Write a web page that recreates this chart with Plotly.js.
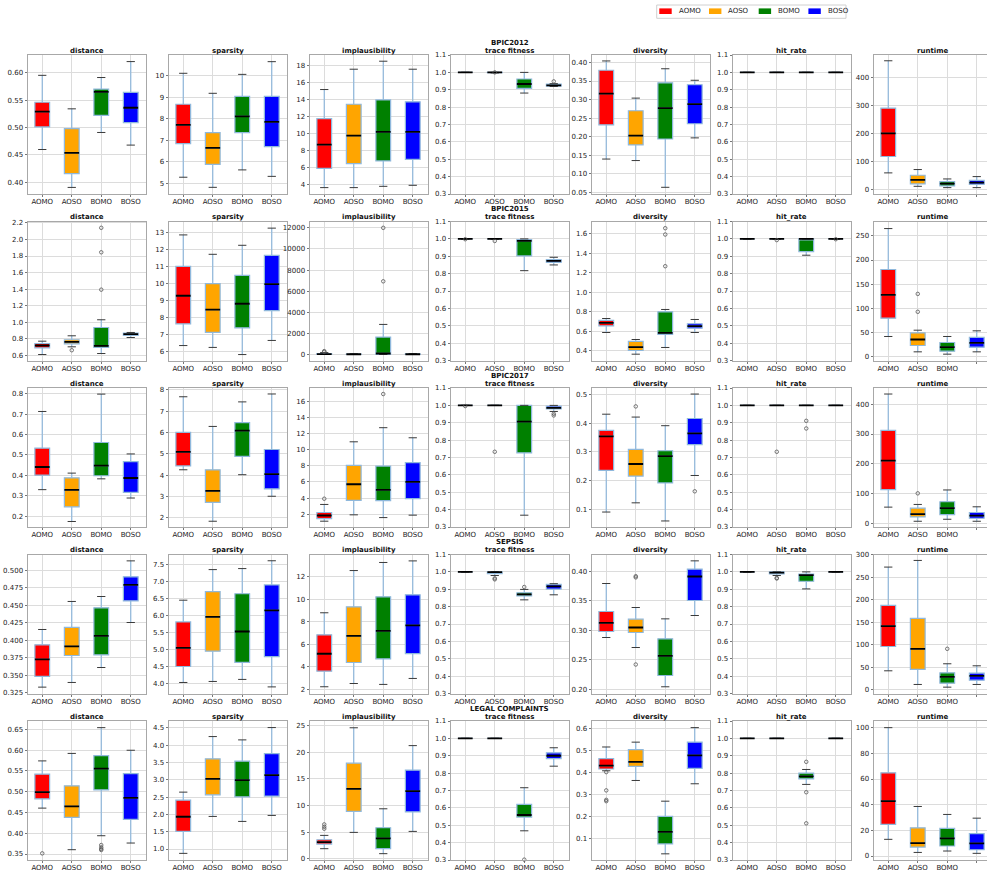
<!DOCTYPE html>
<html>
<head>
<meta charset="utf-8">
<script src="https://cdn.plot.ly/plotly-3.0.1.min.js"></script>
<style>
  html, body { margin: 0; padding: 0; background: #ffffff; }
  #chart { width: 987px; height: 873px; }
</style>
</head>
<body>
<div id="chart"></div>
<script>
// Counterfactual explanation methods compared on five event logs.
const methods = ['AOMO', 'AOSO', 'BOMO', 'BOSO'];
const methodColors = ['#ff0000', '#ffa500', '#008000', '#0000ff'];
const datasets = ['BPIC2012', 'BPIC2015', 'BPIC2017', 'SEPSIS', 'LEGAL COMPLAINTS'];
const metrics = ['distance', 'sparsity', 'implausibility', 'trace fitness', 'diversity', 'hit_rate', 'runtime'];

// Each box: [lower whisker, q1, median, q3, upper whisker], one per method.
const ONE = [1, 1, 1, 1, 1];

// BPIC2012
const bpic2012_distance = [[0.460, 0.501, 0.529, 0.546, 0.595], [0.391, 0.416, 0.454, 0.498, 0.534], [0.491, 0.522, 0.565, 0.570, 0.591], [0.468, 0.509, 0.536, 0.564, 0.620]];
const bpic2012_sparsity = [[5.28, 6.84, 7.71, 8.67, 10.11], [4.81, 5.88, 6.64, 7.35, 9.18], [5.62, 7.35, 8.11, 9.04, 10.06], [5.32, 6.70, 7.85, 9.04, 10.65]];
const bpic2012_implausibility = [[3.61, 5.88, 8.67, 11.73, 15.14], [3.61, 6.43, 9.73, 13.41, 17.53], [3.76, 6.75, 10.16, 13.92, 18.47], [3.88, 6.94, 10.16, 13.69, 17.53]];
const bpic2012_fitness = [ONE, [0.997, 0.999, 1.0, 1.0, 1.0], [0.881, 0.908, 0.933, 0.962, 1.0], [0.919, 0.921, 0.925, 0.933, 0.935]];
const bpic2012_diversity = [[0.140, 0.232, 0.316, 0.379, 0.404], [0.136, 0.178, 0.203, 0.270, 0.304], [0.064, 0.194, 0.277, 0.345, 0.383], [0.197, 0.235, 0.288, 0.340, 0.352]];
const bpic2012_hitrate = [ONE, ONE, ONE, ONE];
const bpic2012_runtime = [[58.9, 117.7, 200.6, 291, 461], [10.8, 19.2, 33.6, 50.5, 70.9], [6.0, 12.0, 20.4, 27.6, 37.2], [6.0, 18.0, 24.0, 32.4, 45.6]];

// BPIC2015
const bpic2015_distance = [[0.612, 0.693, 0.721, 0.745, 0.773], [0.705, 0.741, 0.765, 0.790, 0.838], [0.624, 0.697, 0.717, 0.938, 1.031], [0.817, 0.842, 0.858, 0.870, 0.878]];
const bpic2015_sparsity = [[6.33, 7.61, 9.26, 10.99, 12.84], [6.22, 7.10, 8.44, 9.97, 11.70], [5.80, 7.37, 8.79, 10.46, 12.23], [6.63, 8.38, 9.95, 11.64, 13.24]];
const bpic2015_implausibility = [[0, 10, 40, 90, 180], [0, 5, 20, 40, 60], [0, 10, 95, 1646, 2850], [0, 5, 20, 50, 80]];
const bpic2015_fitness = [ONE, ONE, [0.817, 0.902, 0.988, 0.996, 1.0], [0.850, 0.865, 0.873, 0.881, 0.894]];
const bpic2015_diversity = [[0.585, 0.654, 0.685, 0.709, 0.729], [0.362, 0.400, 0.434, 0.493, 0.513], [0.431, 0.565, 0.582, 0.798, 0.822], [0.585, 0.630, 0.651, 0.675, 0.719]];
const bpic2015_hitrate = [ONE, ONE, [0.906, 0.927, 1.0, 1.0, 1.0], ONE];
const bpic2015_runtime = [[42, 79.9, 128.1, 180.4, 265], [10.3, 23.4, 35.8, 49.6, 55], [5.5, 11.7, 20, 29.6, 42], [10.3, 20, 28.9, 40, 53.7]];

// BPIC2017
const bpic2017_distance = [[0.330, 0.401, 0.441, 0.533, 0.713], [0.174, 0.246, 0.329, 0.388, 0.411], [0.383, 0.398, 0.448, 0.561, 0.798], [0.289, 0.317, 0.387, 0.467, 0.505]];
const bpic2017_sparsity = [[4.25, 4.43, 5.09, 6.00, 7.67], [1.84, 2.72, 3.26, 4.25, 6.28], [4.02, 4.88, 6.08, 6.46, 7.43], [3.01, 3.36, 4.05, 5.20, 7.80]];
const bpic2017_implausibility = [[1.13, 1.46, 1.84, 2.21, 3.21], [1.92, 3.72, 5.72, 8.07, 10.99], [1.58, 3.68, 5.01, 7.98, 12.74], [1.88, 3.93, 6.02, 8.40, 11.49]];
const bpic2017_fitness = [ONE, ONE, [0.368, 0.727, 0.907, 1.0, 1.0], [0.965, 0.979, 0.986, 0.996, 1.0]];
const bpic2017_diversity = [[0.091, 0.236, 0.354, 0.375, 0.431], [0.123, 0.216, 0.258, 0.309, 0.421], [0.060, 0.192, 0.285, 0.304, 0.391], [0.218, 0.325, 0.364, 0.416, 0.501]];
const bpic2017_hitrate = [ONE, ONE, ONE, ONE];
const bpic2017_runtime = [[55.2, 113.8, 210.7, 312, 433.8], [7.9, 22.5, 31.5, 51.8, 64.2], [14.6, 30.4, 51.8, 73.2, 112.7], [7.9, 18.0, 27.0, 37.2, 56.3]];

// SEPSIS
const sepsis_distance = [[0.3331, 0.3484, 0.3727, 0.3937, 0.4156], [0.3398, 0.3784, 0.3913, 0.4185, 0.4557], [0.3612, 0.3794, 0.4065, 0.4466, 0.4628], [0.4256, 0.4566, 0.4795, 0.4909, 0.5138]];
const sepsis_sparsity = [[4.03, 4.50, 5.05, 5.81, 6.45], [4.06, 4.95, 5.96, 6.70, 7.35], [4.12, 4.62, 5.53, 6.64, 7.38], [3.90, 4.79, 6.15, 6.90, 7.61]];
const sepsis_implausibility = [[2.21, 3.60, 5.15, 6.84, 8.80], [2.50, 4.37, 6.75, 9.33, 12.56], [2.42, 4.70, 7.19, 10.22, 13.28], [2.95, 5.17, 7.67, 10.40, 13.42]];
const sepsis_fitness = [ONE, [0.979, 0.990, 0.998, 1.0, 1.0], [0.839, 0.862, 0.870, 0.880, 0.899], [0.868, 0.901, 0.917, 0.928, 0.932]];
const sepsis_diversity = [[0.2878, 0.2980, 0.3127, 0.3320, 0.3796], [0.2708, 0.2963, 0.3048, 0.3190, 0.3388], [0.2040, 0.2232, 0.2567, 0.2856, 0.3195], [0.3252, 0.3507, 0.3915, 0.4040, 0.4181]];
const sepsis_hitrate = [ONE, [0.979, 0.988, 0.996, 1.0, 1.0], [0.902, 0.946, 0.981, 0.987, 1.0], ONE];
const sepsis_runtime = [[42.3, 96.4, 141.7, 187.7, 273], [11.9, 45.3, 91.2, 158.8, 287.8], [5.9, 14.8, 28.9, 37.8, 57.9], [11.9, 21.5, 31.2, 37.1, 53.4]];

// LEGAL COMPLAINTS
const legal_distance = [[0.4604, 0.4828, 0.4988, 0.542, 0.574], [0.3604, 0.438, 0.4644, 0.514, 0.592], [0.394, 0.5044, 0.5556, 0.5868, 0.654], [0.3764, 0.4332, 0.4852, 0.5436, 0.5996]];
const legal_sparsity = [[0.875, 1.510, 1.933, 2.413, 2.644], [1.942, 2.567, 3.029, 3.606, 4.25], [1.798, 2.510, 2.990, 3.538, 4.154], [1.971, 2.529, 3.135, 3.76, 4.51]];
const legal_implausibility = [[1.875, 2.75, 3.125, 3.56, 4.375], [4.94, 8.875, 13.125, 17.94, 24.6], [0.94, 1.875, 3.81, 5.81, 9.375], [5.125, 8.81, 12.69, 16.625, 21.25]];
const legal_fitness = [ONE, ONE, [0.468, 0.547, 0.559, 0.620, 0.716], [0.840, 0.884, 0.900, 0.917, 0.946]];
const legal_diversity = [[0.409, 0.417, 0.432, 0.464, 0.517], [0.365, 0.429, 0.449, 0.505, 0.539], [0.032, 0.077, 0.132, 0.202, 0.271], [0.350, 0.420, 0.479, 0.539, 0.605]];
const legal_hitrate = [ONE, ONE, [0.735, 0.767, 0.781, 0.800, 0.821], ONE];
const legal_runtime = [[13.0, 24.6, 42.7, 64.8, 100], [2.8, 7.0, 10.1, 22.0, 38.6], [3.9, 7.8, 13.7, 21.5, 32.4], [2.1, 4.9, 9.8, 17.4, 29.5]];

// Outliers (points beyond the whiskers), one list per method.
const NONE = [[], [], [], []];
const bpic2012_fitness_out = [[], [1.0], [], [0.948]];
const bpic2015_distance_out = [[], [0.664], [2.14, 1.845, 1.394], []];
const bpic2015_implausibility_out = [[320, 250], [], [12000, 6934], []];
const bpic2015_fitness_out = [[0.998], [0.988], [], []];
const bpic2015_diversity_out = [[], [], [1.658, 1.593, 1.267], []];
const bpic2015_hitrate_out = [[], [0.993], [], [0.998]];
const bpic2015_runtime_out = [[], [130, 93], [], []];
const bpic2017_implausibility_out = [[3.92], [], [16.92], []];
const bpic2017_fitness_out = [[0.996], [0.733], [], [0.952, 0.942]];
const bpic2017_diversity_out = [[], [0.458], [], [0.163]];
const bpic2017_hitrate_out = [[], [0.733], [0.911, 0.867], []];
const bpic2017_runtime_out = [[], [101.4], [], []];
const sepsis_fitness_out = [[], [0.963, 0.957], [0.913], []];
const sepsis_diversity_out = [[], [0.392, 0.390, 0.2419], [], []];
const sepsis_hitrate_out = [[], [0.965, 0.962], [], []];
const sepsis_runtime_out = [[], [], [91.2], []];
const legal_distance_out = [[0.3516], [], [0.3716, 0.3660, 0.3620, 0.3596], []];
const legal_implausibility_out = [[6.44, 6.0, 5.63], [], [], []];
const legal_fitness_out = [[], [], [0.302], []];
const legal_diversity_out = [[0.403, 0.320, 0.277, 0.271], [], [], []];
const legal_hitrate_out = [[], [], [0.865, 0.690, 0.511], []];

// Grid of panels: rows = datasets, columns = metrics.
const boxStats = [
  [bpic2012_distance, bpic2012_sparsity, bpic2012_implausibility, bpic2012_fitness, bpic2012_diversity, bpic2012_hitrate, bpic2012_runtime],
  [bpic2015_distance, bpic2015_sparsity, bpic2015_implausibility, bpic2015_fitness, bpic2015_diversity, bpic2015_hitrate, bpic2015_runtime],
  [bpic2017_distance, bpic2017_sparsity, bpic2017_implausibility, bpic2017_fitness, bpic2017_diversity, bpic2017_hitrate, bpic2017_runtime],
  [sepsis_distance, sepsis_sparsity, sepsis_implausibility, sepsis_fitness, sepsis_diversity, sepsis_hitrate, sepsis_runtime],
  [legal_distance, legal_sparsity, legal_implausibility, legal_fitness, legal_diversity, legal_hitrate, legal_runtime]
];
const outlierStats = [
  [NONE, NONE, NONE, bpic2012_fitness_out, NONE, NONE, NONE],
  [bpic2015_distance_out, NONE, bpic2015_implausibility_out, bpic2015_fitness_out, bpic2015_diversity_out, bpic2015_hitrate_out, bpic2015_runtime_out],
  [NONE, NONE, bpic2017_implausibility_out, bpic2017_fitness_out, bpic2017_diversity_out, bpic2017_hitrate_out, bpic2017_runtime_out],
  [NONE, NONE, NONE, sepsis_fitness_out, sepsis_diversity_out, sepsis_hitrate_out, sepsis_runtime_out],
  [legal_distance_out, NONE, legal_implausibility_out, legal_fitness_out, legal_diversity_out, legal_hitrate_out, NONE]
];

// Y axis settings per panel: [min, max, tick step, tick format]
const FIT = [0.3, 1.1, 0.1, '.1f'];
const yAxisSpec = [
  [[0.379, 0.632, 0.05, '.2f'], [4.50, 10.96, 1, 'd'], [2.86, 19.2, 2, 'd'], FIT, [0.046, 0.420, 0.05, '.2f'], FIT, [-16.8, 481.7, 100, 'd']],
  [[0.540, 2.216, 0.2, '.1f'], [5.45, 13.63, 1, 'd'], [-570, 12601, 2000, 'd'], FIT, [0.297, 1.727, 0.2, '.1f'], FIT, [-7.6, 279.6, 50, 'd']],
  [[0.147, 0.828, 0.1, '.1f'], [1.57, 8.08, 1, 'd'], [0.41, 17.67, 2, 'd'], FIT, [0.039, 0.522, 0.1, '.1f'], FIT, [-11.3, 454, 100, 'd']],
  [[0.324, 0.5229, 0.025, '.3f'], [3.706, 7.794, 0.5, '.1f'], [1.61, 13.99, 2, 'd'], FIT, [0.1926, 0.4289, 0.05, '.2f'], FIT, [-8.2, 301, 50, 'd']],
  [[0.3356, 0.670, 0.05, '.2f'], [0.683, 4.70, 0.5, '.1f'], [-0.25, 25.875, 5, 'd'], FIT, [0.004, 0.635, 0.1, '.1f'], FIT, [-3.1, 105.2, 20, 'd']]
];

// Page geometry (pixels)
const W = 987, H = 873;
const colLeft0 = 27.5, colPitch = 141, plotW = 118;
const rowTop0 = 55, rowPitch = 166.5, plotH = 139;
const BOX_HALF = 0.25, CAP_HALF = 0.14;
const FONT = 'DejaVu Sans, Liberation Sans, sans-serif';
const FS = 7.0;

const px = v => v / W;
const py = v => 1 - v / H;

const traces = [];
const layout = {
  width: W, height: H,
  margin: { l: 0, r: 0, t: 0, b: 0 },
  paper_bgcolor: '#ffffff', plot_bgcolor: '#ffffff',
  font: { family: FONT, size: FS, color: '#222222' },
  showlegend: false,
  annotations: [],
  shapes: [],
  hovermode: false
};

datasets.forEach((ds, r) => {
  metrics.forEach((metric, c) => {
    const k = r * 7 + c + 1;
    const xa = k === 1 ? 'x' : 'x' + k;
    const ya = k === 1 ? 'y' : 'y' + k;
    const stats = boxStats[r][c];
    const outs = outlierStats[r][c];
    const pxPerUnit = plotW / 4;
    const left = colLeft0 + c * colPitch;
    const right = Math.min(W, left + plotW);
    const top = rowTop0 + r * rowPitch;
    const spec = yAxisSpec[r][c];

    stats.forEach((s, i) => {
      traces.push({
        type: 'box', orientation: 'v', xaxis: xa, yaxis: ya,
        name: methods[i], showlegend: false,
        x: [i + 1], lowerfence: [s[0]], q1: [s[1]], median: [s[2]], q3: [s[3]], upperfence: [s[4]],
        width: 2 * BOX_HALF, whiskerwidth: 0, boxpoints: false,
        fillcolor: methodColors[i],
        line: { color: '#8fb8dc', width: 1.2 },
        hoverinfo: 'skip'
      });
    });

    // black median bars and dark whisker caps on top of the boxes
    const mx = [], my = [], cx = [], cy = [], ox = [], oy = [];
    stats.forEach((s, i) => {
      const p = i + 1;
      mx.push(p - BOX_HALF, p + BOX_HALF, null); my.push(s[2], s[2], null);
      cx.push(p - CAP_HALF, p + CAP_HALF, null); cy.push(s[0], s[0], null);
      cx.push(p - CAP_HALF, p + CAP_HALF, null); cy.push(s[4], s[4], null);
      outs[i].forEach(v => { ox.push(p); oy.push(v); });
    });
    traces.push({ type: 'scatter', mode: 'lines', xaxis: xa, yaxis: ya, x: cx, y: cy,
      line: { color: '#3a3a3a', width: 1 }, showlegend: false, hoverinfo: 'skip' });
    traces.push({ type: 'scatter', mode: 'lines', xaxis: xa, yaxis: ya, x: mx, y: my,
      line: { color: '#000000', width: 1.8 }, showlegend: false, hoverinfo: 'skip' });
    if (ox.length) {
      traces.push({ type: 'scatter', mode: 'markers', xaxis: xa, yaxis: ya, x: ox, y: oy,
        marker: { symbol: 'circle-open', size: 3.5, color: '#555555', line: { width: 0.8 } },
        showlegend: false, hoverinfo: 'skip', cliponaxis: false });
    }

    const axisCommon = {
      showgrid: true, gridcolor: '#dcdcdc', gridwidth: 1,
      showline: true, linecolor: '#a8a8a8', linewidth: 1,
      ticks: 'outside', ticklen: 2, tickwidth: 0.8, tickcolor: '#555555',
      tickfont: { family: FONT, size: FS, color: '#222222' },
      zeroline: false, fixedrange: true
    };
    layout['xaxis' + (k === 1 ? '' : k)] = Object.assign({}, axisCommon, {
      domain: [px(left), px(right)], anchor: ya, mirror: true,
      range: [0.5, 0.5 + (right - left) / pxPerUnit],
      tickmode: 'array', tickvals: [1, 2, 3, 4], ticktext: methods,
      ticklabelstandoff: -1
    });
    layout['yaxis' + (k === 1 ? '' : k)] = Object.assign({}, axisCommon, {
      domain: [py(top + plotH), py(top)], anchor: xa,
      mirror: right < W,
      range: [spec[0], spec[1]], tick0: 0, dtick: spec[2], tickformat: spec[3]
    });

    // panel titles; the trace fitness column also names the event log
    const titleFont = { family: FONT, size: FS, color: '#111111', weight: 'bold' };
    layout.annotations.push({
      text: metric, xref: 'paper', yref: 'paper',
      x: px(left + plotW / 2), y: py(top - 4.3), xanchor: 'center', yanchor: 'middle',
      showarrow: false, font: titleFont
    });
    if (metric === 'trace fitness') {
      layout.annotations.push({
        text: ds, xref: 'paper', yref: 'paper',
        x: px(left + plotW / 2), y: py(top - 12.5), xanchor: 'center', yanchor: 'middle',
        showarrow: false, font: titleFont
      });
    }
  });
});

// Legend drawn as a framed row of colour patches with labels
const legendLeft = 656.7, legendTop = 5, legendRight = 846, legendBottom = 18.3;
const entryPitch = 49.7, patchW = 12.4;
layout.shapes.push({
  type: 'rect', xref: 'paper', yref: 'paper',
  x0: px(legendLeft), x1: px(legendRight), y0: py(legendBottom), y1: py(legendTop),
  line: { color: '#d0d0d0', width: 1 }, fillcolor: '#ffffff'
});
methods.forEach((m, i) => {
  const x0 = legendLeft + 2.6 + i * entryPitch;
  layout.shapes.push({
    type: 'rect', xref: 'paper', yref: 'paper',
    x0: px(x0), x1: px(x0 + patchW), y0: py(14), y1: py(8.4),
    line: { width: 0 }, fillcolor: methodColors[i]
  });
  layout.annotations.push({
    text: m, xref: 'paper', yref: 'paper',
    x: px(x0 + patchW + 5), y: py(11.4), xanchor: 'left', yanchor: 'middle',
    showarrow: false, font: { family: FONT, size: FS, color: '#222222' }
  });
});

Plotly.newPlot('chart', traces, layout, { staticPlot: true, displayModeBar: false });
</script>
</body>
</html>
